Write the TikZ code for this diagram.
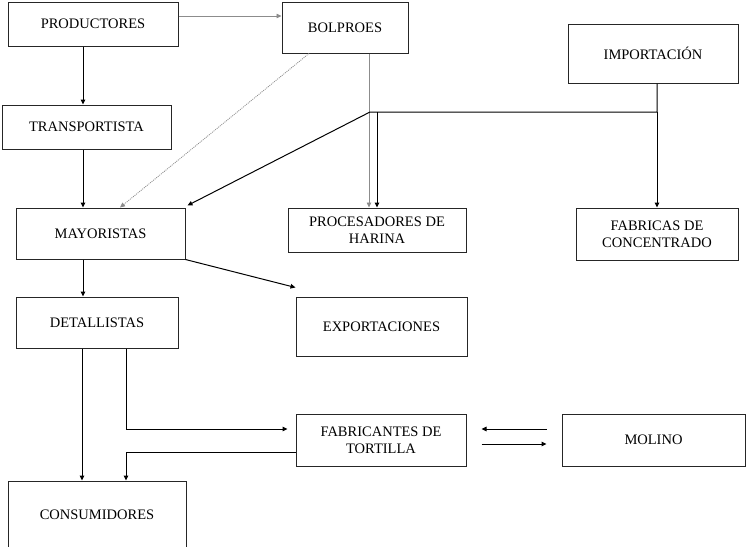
\documentclass[tikz,border=0pt]{standalone}
\usepackage{fontspec}
\setmainfont{Liberation Serif}
\usetikzlibrary{arrows.meta,positioning}
\tikzset{
    %Define standard arrow tip
    >={Triangle[length=5pt,width=4.5pt]},
    %Define style for boxes
    caja/.style={
           rectangle,
           draw=black!85, line width=1pt,
           font=\fontsize{14.5}{17}\selectfont,
           align=center,
           inner sep=0pt},
    % Define arrow styles
    flecha/.style={
           ->,
           line width=1pt,
           black},
    gris/.style={
           ->,
           line width=.8pt,
           black!45},
    punteado/.style={
           gris,
           dash pattern=on 1pt off 1pt}
}
\begin{document}
\begin{tikzpicture}[x=1pt,y=-1pt]
\useasboundingbox (0,0) rectangle (746,546);
\clip (0,0) rectangle (746,546);
\node[caja, minimum width=170, minimum height=44](prod) at (93,24){PRODUCTORES};
\node[caja, minimum width=126, minimum height=51](bolp) at (345,27.5){BOLPROES};
\node[caja, minimum width=170, minimum height=59](impo) at (653,53.5){IMPORTACIÓN};
\node[caja, minimum width=169, minimum height=44](trans) at (86.5,127){TRANSPORTISTA};
\node[caja, minimum width=169, minimum height=51](mayor) at (100.5,233.5){MAYORISTAS};
\node[caja, minimum width=178, minimum height=44](proc) at (377,230){PROCESADORES DE\\HARINA};
\node[caja, minimum width=162, minimum height=52](fabc) at (657,234){FABRICAS DE\\CONCENTRADO};
\node[caja, minimum width=162, minimum height=51](detal) at (97,322.5){DETALLISTAS};
\node[caja, minimum width=171, minimum height=59](export) at (381.5,326.5){EXPORTACIONES};
\node[caja, minimum width=170, minimum height=52](fabt) at (381,440){FABRICANTES DE\\TORTILLA};
\node[caja, minimum width=183, minimum height=52](molino) at (653.5,440){MOLINO};
\node[caja, minimum width=178, minimum height=68](consum) at (97,515){CONSUMIDORES};
\coordinate (nudo) at (370,112);
\coordinate (cruce) at (fabc.north |- nudo);
% upper part
\draw[gris] ([yshift=8pt]prod.east) -- ([yshift=8pt]prod.east -| bolp.west);
\draw[flecha] ([xshift=-10pt]prod.south) -- ([xshift=-10pt]prod.south |- trans.north);
\draw[flecha] ([xshift=-3.5pt]trans.south) -- ([xshift=-3.5pt]trans.south |- mayor.north);
\draw[punteado] ([xshift=-36pt]bolp.south) -- ([xshift=19.5pt]mayor.north);
\draw[gris] ([xshift=24pt]bolp.south) -- ([xshift=24pt]bolp.south |- proc.north);
\draw[flecha] (impo.south -| cruce) -- (cruce) -- (nudo) -- ([shift={(2pt,2pt)}]mayor.north east);
\draw[flecha] (cruce) -- (fabc.north);
\draw[flecha] ([xshift=7pt]nudo) -- ([xshift=7pt]nudo |- proc.north);
% lower part
\draw[flecha] (mayor.south east) -- ([yshift=9pt]export.north west);
\draw[flecha] ([xshift=-17.5pt]mayor.south) -- ([xshift=-17.5pt]mayor.south |- detal.north);
\draw[flecha] ([xshift=-15pt]detal.south) -- ([xshift=-15pt]detal.south |- consum.north);
\draw[flecha, shorten >=8pt] ([xshift=29pt]detal.south) |- ([yshift=11pt]fabt.west);
\draw[flecha] ([yshift=-12pt]fabt.west) -| ([xshift=29pt]consum.north);
\draw[flecha, shorten <=15pt, shorten >=15pt] ([yshift=11pt]molino.west) -- ([yshift=11pt]molino.west -| fabt.east);
\draw[flecha, shorten <=15pt, shorten >=15pt] ([yshift=-4pt]fabt.east) -- ([yshift=-4pt]fabt.east -| molino.west);
\end{tikzpicture}
\end{document}
